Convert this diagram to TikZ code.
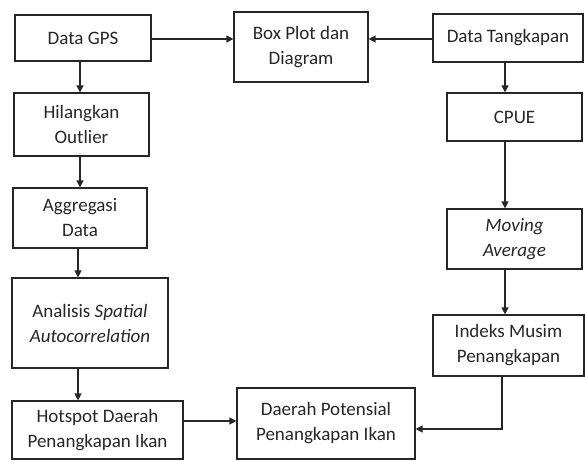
\documentclass[tikz,border=0pt]{standalone}
\usepackage{fontspec}
\setmainfont{Carlito}
\usetikzlibrary{arrows.meta}
\begin{document}
\begin{tikzpicture}[x=1pt,y=-1pt,
  box/.style={draw=black!85,line width=1.2pt,align=center,inner sep=0pt,
    font=\fontsize{19}{25}\selectfont,text=black!85},
  arr/.style={draw=black!85,line width=1.3pt,-{Triangle[length=7pt,width=7pt]}}]
\useasboundingbox (0,0) rectangle (585,461);
\node[box,minimum width=136pt,minimum height=46pt] (gps) at (83,38) {Data GPS};
\node[box,minimum width=135pt,minimum height=63pt] (hil) at (81.5,124.5) {Hilangkan\\Outlier};
\node[box,minimum width=134pt,minimum height=60pt] (agg) at (80,218) {Aggregasi\\Data};
\node[box,minimum width=156pt,minimum height=90pt] (ana) at (90,323) {Analisis \textit{Spatial}\\\textit{Autocorrelation}};
\node[box,minimum width=171pt,minimum height=58pt] (hot) at (97.5,430) {Hotspot Daerah\\Penangkapan Ikan};
\node[box,minimum width=134pt,minimum height=70pt] (bpd) at (301,47) {Box Plot dan\\Diagram};
\node[box,minimum width=150pt,minimum height=48pt] (tan) at (508,38) {Data Tangkapan};
\node[box,minimum width=135pt,minimum height=48pt] (cpue) at (514.5,117) {CPUE};
\node[box,minimum width=135pt,minimum height=60pt] (mov) at (514.5,239) {\textit{Moving}\\\textit{Average}};
\node[box,minimum width=151pt,minimum height=61pt] (ind) at (508.5,345.5) {Indeks Musim\\Penangkapan};
\node[box,minimum width=178pt,minimum height=71pt] (dae) at (326,423.5) {Daerah Potensial\\Penangkapan Ikan};
\coordinate (xa) at (80,0);
\coordinate (xb) at (78,0);
\coordinate (xc) at (505,0);
\coordinate (xd) at (502,0);
\coordinate (ya) at (0,421);
\coordinate (yb) at (0,429);
\coordinate (yc) at (0,39);
\draw[arr] (gps.east |- yc) -- (bpd.west |- yc);
\draw[arr] (tan.west |- yc) -- (bpd.east |- yc);
\draw[arr] (gps.south -| xa) -- (hil.north -| xa);
\draw[arr] (hil.south -| xa) -- (agg.north -| xa);
\draw[arr] (agg.south -| xb) -- (ana.north -| xb);
\draw[arr] (ana.south -| xb) -- (hot.north -| xb);
\draw[arr] (tan.south -| xc) -- (cpue.north -| xc);
\draw[arr] (cpue.south -| xc) -- (mov.north -| xc);
\draw[arr] (mov.south -| xc) -- (ind.north -| xc);
\draw[arr] (ind.south -| xd) -- (xd |- yb) -- (dae.east |- yb);
\draw[arr] (hot.east |- ya) -- (dae.west |- ya);
\end{tikzpicture}
\end{document}
